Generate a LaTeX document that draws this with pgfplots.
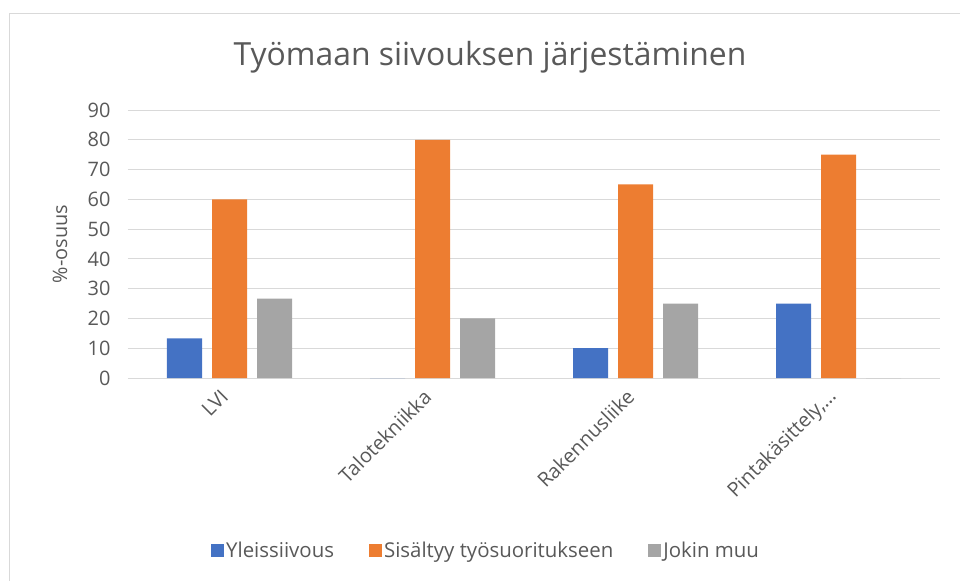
\documentclass[border=0pt]{standalone}
\usepackage{fontspec}
\setmainfont{Open Sans}
\usepackage{pgfplots}
\pgfplotsset{compat=1.18}
\definecolor{cblue}{HTML}{4472C4}
\definecolor{corange}{HTML}{ED7D31}
\definecolor{cgray}{HTML}{A5A5A5}
\definecolor{ctext}{HTML}{595959}
\definecolor{cgrid}{HTML}{D9D9D9}
\begin{document}
\begin{tikzpicture}
\useasboundingbox (0,0) rectangle (960bp,-581bp);
\draw[cgrid, line width=0.8bp] (9bp,-582bp) -- (9bp,-13bp) -- (961bp,-13bp);
\node[text=ctext, font=\fontsize{32}{38}\selectfont, anchor=center] at (490bp,-57bp) {Työmaan siivouksen järjestäminen};
\begin{axis}[
  at={(128bp,-378bp)}, anchor=south west,
  scale only axis, width=812bp, height=268bp,
  ybar=10bp, bar width=35bp,
  xmin=-0.5, xmax=3.5, ymin=0, ymax=90,
  xtick=data, xticklabels={LVI,Talotekniikka,Rakennusliike,{Pintakäsittely,…}},
  ytick={0,10,20,30,40,50,60,70,80,90},
  ymajorgrids, grid style={cgrid, line width=0.8bp},
  axis line style={draw=none},
  axis x line*=bottom, axis y line*=left,
  x axis line style={cgrid, line width=0.8bp},
  major tick length=0pt,
  tick label style={text=ctext, font=\fontsize{20}{24}\selectfont},
  /pgf/number format/assume math mode=true,
  xticklabel style={xshift=-2.5bp, yshift=-13bp, rotate=45, anchor=east},
  yticklabel style={anchor=east, xshift=-14bp},
  ylabel={\%-osuus}, ylabel style={text=ctext, font=\fontsize{20}{24}\selectfont, at={(axis description cs:-0.0837,0.5)}, anchor=center},
  legend style={at={(0.441,-0.645)}, anchor=center, draw=none, legend columns=-1, font=\fontsize{20.5}{24}\selectfont, text=ctext, /tikz/every even column/.append style={column sep=33bp}},
  legend image code/.code={\fill[#1] (0bp,-6.5bp) rectangle (13bp,6.5bp);},
]
\addplot[fill=cblue, draw=none] coordinates {(0,13.3) (1,0) (2,10) (3,25)};
\addplot[fill=corange, draw=none] coordinates {(0,60) (1,80) (2,65) (3,75)};
\addplot[fill=cgray, draw=none] coordinates {(0,26.7) (1,20) (2,25) (3,0)};
\legend{Yleissiivous, Sisältyy työsuoritukseen, Jokin muu}
\end{axis}
\end{tikzpicture}
\end{document}
